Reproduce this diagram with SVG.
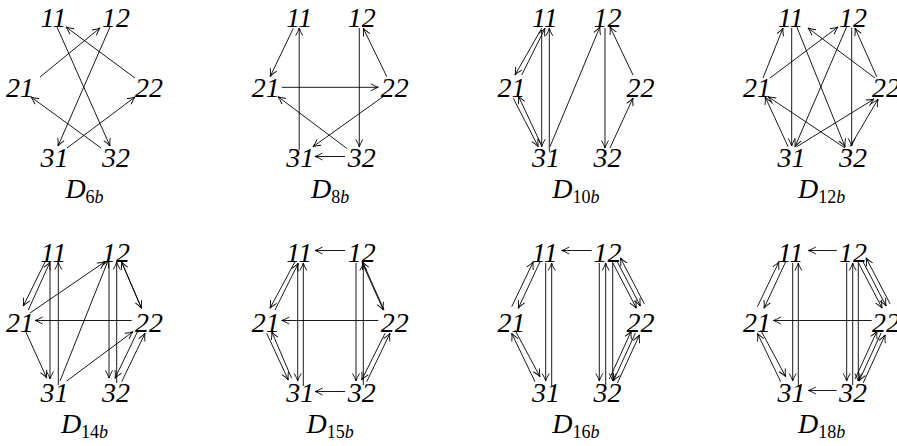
<svg xmlns="http://www.w3.org/2000/svg" width="897" height="446" viewBox="0 0 897 446">
<style>
.lbl{font-family:"Liberation Serif","Times New Roman",serif;font-style:italic;font-size:28px;text-anchor:middle;fill:#000}
.cap{font-family:"Liberation Serif","Times New Roman",serif;font-size:28px;text-anchor:middle;fill:#000}
.it{font-style:italic}
.sub{font-size:18px}
.edges line{fill:none;stroke:#000;stroke-width:0.9;marker-end:url(#ah)}
</style>
<defs>
<marker id="ah" markerUnits="userSpaceOnUse" viewBox="-8 -5 10 10" markerWidth="10" markerHeight="10" refX="0" refY="0" orient="auto" overflow="visible">
<path d="M-7.5,-3.5 Q-2.8,-0.7 0,0 Q-2.8,0.7 -7.5,3.5" fill="none" stroke="#000" stroke-width="0.9"/>
</marker>
</defs>
<rect width="897" height="446" fill="#fff"/>

<!-- D6b -->
<g id="D6b" transform="translate(0,0)">
<g id="D6b-edges" class="edges">
<line x1="57" y1="27" x2="110" y2="146"/>
<line x1="110" y1="27" x2="58" y2="146"/>
<line x1="40" y1="77" x2="100" y2="28"/>
<line x1="135" y1="78" x2="66" y2="27"/>
<line x1="101" y1="148" x2="31" y2="97"/>
<line x1="67" y1="148" x2="135" y2="97"/>
</g>
<g id="D6b-n11"><text class="lbl" x="53.5" y="26.5">11</text></g>
<g id="D6b-n12"><text class="lbl" x="116" y="26.5">12</text></g>
<g id="D6b-n21"><text class="lbl" x="20" y="97">21</text></g>
<g id="D6b-n22"><text class="lbl" x="149" y="97">22</text></g>
<g id="D6b-n31"><text class="lbl" x="54.5" y="167">31</text></g>
<g id="D6b-n32"><text class="lbl" x="116" y="167">32</text></g>
<g id="D6b-cap"><text class="cap" x="84.5" y="198"><tspan class="it">D</tspan><tspan class="sub" dy="5">6<tspan class="it">b</tspan></tspan></text></g>
</g>

<!-- D8b -->
<g id="D8b" transform="translate(245.7,0)">
<g id="D8b-edges" class="edges">
<line x1="47.6" y1="28.3" x2="24.5" y2="76.5"/>
<line x1="53.5" y1="150" x2="53.5" y2="28"/>
<line x1="113.6" y1="28" x2="113.6" y2="147"/>
<line x1="141" y1="76.5" x2="117.6" y2="28.3"/>
<line x1="36" y1="87.3" x2="132.6" y2="87.3"/>
<line x1="137.3" y1="96.7" x2="67.3" y2="146.7"/>
<line x1="101" y1="148.3" x2="32.3" y2="96.7"/>
<line x1="99.3" y1="156.5" x2="69.3" y2="156.5"/>
</g>
<g id="D8b-n11"><text class="lbl" x="53.5" y="26.5">11</text></g>
<g id="D8b-n12"><text class="lbl" x="116" y="26.5">12</text></g>
<g id="D8b-n21"><text class="lbl" x="20" y="97">21</text></g>
<g id="D8b-n22"><text class="lbl" x="149" y="97">22</text></g>
<g id="D8b-n31"><text class="lbl" x="54.5" y="167">31</text></g>
<g id="D8b-n32"><text class="lbl" x="116" y="167">32</text></g>
<g id="D8b-cap"><text class="cap" x="84.5" y="198"><tspan class="it">D</tspan><tspan class="sub" dy="5">8<tspan class="it">b</tspan></tspan></text></g>
</g>

<!-- D10b -->
<g id="D10b" transform="translate(491.4,0)">
<g id="D10b-edges" class="edges">
<line x1="50.3" y1="28.3" x2="23.6" y2="75"/>
<line x1="30.3" y1="75" x2="53.6" y2="28.3"/>
<line x1="50.3" y1="30" x2="50.3" y2="146.7"/>
<line x1="57.9" y1="151.7" x2="57.9" y2="28.3"/>
<line x1="21.9" y1="98.3" x2="46.9" y2="146.7"/>
<line x1="49.5" y1="144" x2="27" y2="96"/>
<line x1="58.6" y1="146.7" x2="108.6" y2="26.7"/>
<line x1="113.6" y1="28" x2="113.6" y2="148"/>
<line x1="141.6" y1="75" x2="118.6" y2="26.7"/>
<line x1="118.6" y1="148" x2="141.6" y2="98"/>
</g>
<g id="D10b-n11"><text class="lbl" x="53.5" y="26.5">11</text></g>
<g id="D10b-n12"><text class="lbl" x="116" y="26.5">12</text></g>
<g id="D10b-n21"><text class="lbl" x="20" y="97">21</text></g>
<g id="D10b-n22"><text class="lbl" x="149" y="97">22</text></g>
<g id="D10b-n31"><text class="lbl" x="54.5" y="167">31</text></g>
<g id="D10b-n32"><text class="lbl" x="116" y="167">32</text></g>
<g id="D10b-cap"><text class="cap" x="84.5" y="198"><tspan class="it">D</tspan><tspan class="sub" dy="5">10<tspan class="it">b</tspan></tspan></text></g>
</g>

<!-- D12b -->
<g id="D12b" transform="translate(737.1,0)">
<g id="D12b-edges" class="edges">
<line x1="25.9" y1="78" x2="45.9" y2="28"/>
<line x1="32.9" y1="78" x2="100.9" y2="27"/>
<line x1="137.9" y1="78" x2="70.9" y2="28"/>
<line x1="139.6" y1="76.7" x2="117.9" y2="28"/>
<line x1="54.6" y1="28" x2="54.6" y2="146"/>
<line x1="114.6" y1="28" x2="114.6" y2="146"/>
<line x1="59.6" y1="26.7" x2="107.9" y2="146.7"/>
<line x1="109.6" y1="26.7" x2="57.9" y2="146.7"/>
<line x1="51" y1="146.7" x2="28" y2="96.7"/>
<line x1="108" y1="148" x2="31" y2="96.7"/>
<line x1="59.6" y1="146.7" x2="137" y2="99"/>
<line x1="113" y1="146.7" x2="141" y2="99"/>
</g>
<g id="D12b-n11"><text class="lbl" x="53.5" y="26.5">11</text></g>
<g id="D12b-n12"><text class="lbl" x="116" y="26.5">12</text></g>
<g id="D12b-n21"><text class="lbl" x="20" y="97">21</text></g>
<g id="D12b-n22"><text class="lbl" x="149" y="97">22</text></g>
<g id="D12b-n31"><text class="lbl" x="54.5" y="167">31</text></g>
<g id="D12b-n32"><text class="lbl" x="116" y="167">32</text></g>
<g id="D12b-cap"><text class="cap" x="84.5" y="198"><tspan class="it">D</tspan><tspan class="sub" dy="5">12<tspan class="it">b</tspan></tspan></text></g>
</g>

<!-- D14b -->
<g id="D14b" transform="translate(0,235)">
<g id="D14b-edges" class="edges">
<line x1="45" y1="27" x2="23.3" y2="71"/>
<line x1="28.3" y1="75" x2="50" y2="27"/>
<line x1="50" y1="28" x2="50" y2="144"/>
<line x1="58.3" y1="150" x2="58.3" y2="27"/>
<line x1="25" y1="95" x2="46.7" y2="143"/>
<line x1="30" y1="78" x2="105" y2="26.7"/>
<line x1="60" y1="146" x2="108.3" y2="25"/>
<line x1="131.7" y1="85.5" x2="35" y2="85.5"/>
<line x1="66.7" y1="146" x2="133" y2="96.7"/>
<line x1="109" y1="27" x2="109" y2="143"/>
<line x1="116.7" y1="148" x2="116.7" y2="27"/>
<line x1="121.5" y1="26.7" x2="141.5" y2="73.3"/>
<line x1="141.5" y1="73.3" x2="121.5" y2="26.7"/>
<line x1="138.3" y1="95" x2="115" y2="143.3"/>
<line x1="121.7" y1="146.7" x2="145" y2="98.3"/>
</g>
<g id="D14b-n11"><text class="lbl" x="53.5" y="26.5">11</text></g>
<g id="D14b-n12"><text class="lbl" x="116" y="26.5">12</text></g>
<g id="D14b-n21"><text class="lbl" x="20" y="97">21</text></g>
<g id="D14b-n22"><text class="lbl" x="149" y="97">22</text></g>
<g id="D14b-n31"><text class="lbl" x="54.5" y="167">31</text></g>
<g id="D14b-n32"><text class="lbl" x="116" y="167">32</text></g>
<g id="D14b-cap"><text class="cap" x="84.5" y="198"><tspan class="it">D</tspan><tspan class="sub" dy="5">14<tspan class="it">b</tspan></tspan></text></g>
</g>

<!-- D15b -->
<g id="D15b" transform="translate(245.7,235)">
<g id="D15b-edges" class="edges">
<line x1="99.3" y1="15.5" x2="69.3" y2="15.5"/>
<line x1="99.3" y1="156.5" x2="69.3" y2="156.5"/>
<line x1="49.3" y1="26.7" x2="24.3" y2="73.3"/>
<line x1="29.3" y1="75" x2="52.6" y2="28.3"/>
<line x1="52" y1="28" x2="52" y2="146"/>
<line x1="57.6" y1="151" x2="57.6" y2="28"/>
<line x1="132.6" y1="85.5" x2="36" y2="85.5"/>
<line x1="21" y1="98.3" x2="42.6" y2="145"/>
<line x1="46" y1="143.3" x2="26" y2="96.7"/>
<line x1="110.3" y1="28" x2="110.3" y2="146"/>
<line x1="117.6" y1="150" x2="117.6" y2="28"/>
<line x1="116" y1="26.7" x2="137.6" y2="75"/>
<line x1="138.4" y1="75" x2="116.8" y2="26.7"/>
<line x1="139.3" y1="98.3" x2="116" y2="145"/>
<line x1="121" y1="146.7" x2="144.3" y2="98.3"/>
</g>
<g id="D15b-n11"><text class="lbl" x="53.5" y="26.5">11</text></g>
<g id="D15b-n12"><text class="lbl" x="116" y="26.5">12</text></g>
<g id="D15b-n21"><text class="lbl" x="20" y="97">21</text></g>
<g id="D15b-n22"><text class="lbl" x="149" y="97">22</text></g>
<g id="D15b-n31"><text class="lbl" x="54.5" y="167">31</text></g>
<g id="D15b-n32"><text class="lbl" x="116" y="167">32</text></g>
<g id="D15b-cap"><text class="cap" x="84.5" y="198"><tspan class="it">D</tspan><tspan class="sub" dy="5">15<tspan class="it">b</tspan></tspan></text></g>
</g>

<!-- D16b -->
<g id="D16b" transform="translate(491.4,235)">
<g id="D16b-edges" class="edges">
<line x1="100.3" y1="15.5" x2="70.3" y2="15.5"/>
<line x1="48.6" y1="26.7" x2="26.9" y2="73.3"/>
<line x1="20.3" y1="71.7" x2="41.9" y2="26.7"/>
<line x1="54.3" y1="28" x2="54.3" y2="146"/>
<line x1="60.3" y1="151" x2="60.3" y2="28"/>
<line x1="23.6" y1="95" x2="48.6" y2="141.7"/>
<line x1="43.6" y1="146.7" x2="20.3" y2="98.3"/>
<line x1="107.9" y1="28" x2="107.9" y2="146"/>
<line x1="114.3" y1="150" x2="114.3" y2="28"/>
<line x1="121.3" y1="28" x2="121.3" y2="146"/>
<line x1="121" y1="27.1" x2="145" y2="73.1"/>
<line x1="125" y1="25" x2="149" y2="71"/>
<line x1="153" y1="68.9" x2="129" y2="22.9"/>
<line x1="117.9" y1="144.1" x2="139.9" y2="96.1"/>
<line x1="144" y1="98" x2="122" y2="146"/>
<line x1="126.1" y1="147.9" x2="148.1" y2="99.9"/>
</g>
<g id="D16b-n11"><text class="lbl" x="53.5" y="26.5">11</text></g>
<g id="D16b-n12"><text class="lbl" x="116" y="26.5">12</text></g>
<g id="D16b-n21"><text class="lbl" x="20" y="97">21</text></g>
<g id="D16b-n22"><text class="lbl" x="149" y="97">22</text></g>
<g id="D16b-n31"><text class="lbl" x="54.5" y="167">31</text></g>
<g id="D16b-n32"><text class="lbl" x="116" y="167">32</text></g>
<g id="D16b-cap"><text class="cap" x="84.5" y="198"><tspan class="it">D</tspan><tspan class="sub" dy="5">16<tspan class="it">b</tspan></tspan></text></g>
</g>

<!-- D18b -->
<g id="D18b" transform="translate(737.1,235)">
<g id="D18b-edges" class="edges">
<line x1="99.6" y1="15.5" x2="71.2" y2="15.5"/>
<line x1="99.6" y1="155.5" x2="71.2" y2="155.5"/>
<line x1="134.6" y1="85.5" x2="36.2" y2="85.5"/>
<line x1="48.6" y1="26.7" x2="26.9" y2="73.3"/>
<line x1="20.3" y1="71.7" x2="41.9" y2="26.7"/>
<line x1="55.6" y1="28" x2="55.6" y2="146"/>
<line x1="61.2" y1="151" x2="61.2" y2="28"/>
<line x1="23.6" y1="95" x2="48.6" y2="141.7"/>
<line x1="43.6" y1="146.7" x2="20.3" y2="98.3"/>
<line x1="109.6" y1="28" x2="109.6" y2="146"/>
<line x1="115.6" y1="150" x2="115.6" y2="28"/>
<line x1="121.2" y1="28" x2="121.2" y2="146"/>
<line x1="121" y1="27.1" x2="145" y2="73.1"/>
<line x1="125" y1="25" x2="149" y2="71"/>
<line x1="153" y1="68.9" x2="129" y2="22.9"/>
<line x1="117.9" y1="144.1" x2="139.9" y2="96.1"/>
<line x1="144" y1="98" x2="122" y2="146"/>
<line x1="126.1" y1="147.9" x2="148.1" y2="99.9"/>
</g>
<g id="D18b-n11"><text class="lbl" x="53.5" y="26.5">11</text></g>
<g id="D18b-n12"><text class="lbl" x="116" y="26.5">12</text></g>
<g id="D18b-n21"><text class="lbl" x="20" y="97">21</text></g>
<g id="D18b-n22"><text class="lbl" x="149" y="97">22</text></g>
<g id="D18b-n31"><text class="lbl" x="54.5" y="167">31</text></g>
<g id="D18b-n32"><text class="lbl" x="116" y="167">32</text></g>
<g id="D18b-cap"><text class="cap" x="84.5" y="198"><tspan class="it">D</tspan><tspan class="sub" dy="5">18<tspan class="it">b</tspan></tspan></text></g>
</g>
</svg>
